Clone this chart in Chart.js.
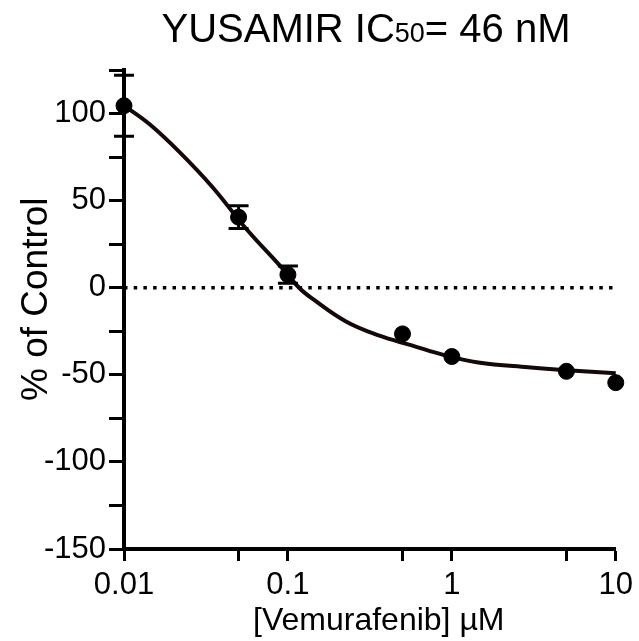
<!DOCTYPE html>
<html>
<head>
<meta charset="utf-8">
<script src="https://cdn.jsdelivr.net/npm/chart.js@4"></script>
<style>
  html, body { margin: 0; padding: 0; background: #fff; }
  #wrap { width: 639px; height: 641px; }
</style>
</head>
<body>
<div id="wrap"><canvas id="myChart" width="639" height="641"></canvas></div>
<script>
// measured points (mean +/- error)
const concentrations = [0.01, 0.05, 0.1, 0.5, 1, 5, 10];
const meanResponse = [104.5, 40.5, 7.5, -26.5, -39.5, -48, -54.5];
const errResponse = [17.5, 6.5, 5, 0, 0, 0, 0];

// fitted curve
const fitX = [0.01, 0.0144, 0.0219, 0.0347, 0.0558, 0.0885, 0.117, 0.141, 0.226, 0.358, 0.569, 0.915, 1.45, 2.92, 5.03, 10];
const fitY = [104.6, 93.7, 77.7, 57.7, 33.7, 13.1, 0, -6.3, -19.4, -27.4, -33.1, -38.9, -42.9, -45.7, -47.4, -49.1];

// axis ticks
const xTickValues = [0.01, 0.05, 0.1, 0.5, 1, 5, 10];
const xTickLabels = ["0.01", "", "0.1", "", "1", "", "10"];
const yTickValues = [-150, -125, -100, -75, -50, -25, 0, 25, 50, 75, 100, 125];
const yTickLabels = ["-150", "", "-100", "", "-50", "", "0", "", "50", "", "100", ""];

const FONT = "'Liberation Sans', Arial, Helvetica, sans-serif";
const INK = "#000";

const errorBars = {
  id: "errorBars",
  afterDatasetsDraw(chart) {
    const x = chart.scales.x, y = chart.scales.y, c = chart.ctx;
    c.save();
    c.strokeStyle = INK;
    c.lineWidth = 3;
    for (let i = 0; i < concentrations.length; i++) {
      if (!errResponse[i]) continue;
      const px = x.getPixelForValue(concentrations[i]);
      const top = y.getPixelForValue(meanResponse[i] + errResponse[i]);
      const bot = y.getPixelForValue(meanResponse[i] - errResponse[i]);
      c.beginPath();
      c.moveTo(px, top); c.lineTo(px, bot);
      c.moveTo(px - 10, top); c.lineTo(px + 10, top);
      c.moveTo(px - 10, bot); c.lineTo(px + 10, bot);
      c.stroke();
    }
    c.restore();
  }
};

// title with the small "50"
const titlePlugin = {
  id: "titlePlugin",
  afterDraw(chart) {
    const c = chart.ctx;
    const parts = [["YUSAMIR IC", 40], ["50", 27], ["= 46 nM", 40]];
    c.save();
    c.fillStyle = INK;
    c.textBaseline = "alphabetic";
    let total = 0;
    parts.forEach(p => { c.font = p[1] + "px " + FONT; total += c.measureText(p[0]).width; });
    let x = 366 - total / 2;
    parts.forEach(p => {
      c.font = p[1] + "px " + FONT;
      c.fillText(p[0], x, 42);
      x += c.measureText(p[0]).width;
    });
    c.restore();
  }
};

const ctx = document.getElementById("myChart");
const myChart = new Chart(ctx, {
  type: "scatter",
  data: {
    datasets: [
      {
        label: "points",
        data: concentrations.map((v, i) => ({ x: v, y: meanResponse[i] })),
        backgroundColor: INK,
        borderColor: INK,
        pointRadius: 8,
        pointHoverRadius: 8,
        showLine: false,
        clip: false,
      },
      {
        label: "fit",
        data: fitX.map((v, i) => ({ x: v, y: fitY[i] })),
        showLine: true,
        borderColor: "#140808",
        borderWidth: 4,
        pointRadius: 0,
        tension: 0.4,
        clip: false,
      },
      {
        label: "zero",
        data: [{ x: 0.01, y: 0 }, { x: 10, y: 0 }],
        showLine: true,
        borderColor: INK,
        borderWidth: 3.5,
        borderDash: [3.5, 6.2],
        pointRadius: 0,
      },
    ],
  },
  options: {
    responsive: false,
    animation: false,
    layout: { padding: { top: 70, right: 21, left: 0, bottom: 0 } },
    plugins: {
      legend: { display: false },
      tooltip: { enabled: false },
    },
    scales: {
      x: {
        type: "logarithmic",
        min: 0.01,
        max: 10,
        afterBuildTicks: (s) => { s.ticks = xTickValues.map(v => ({ value: v })); },
        afterFit: (s) => { s.height = 92; },
        ticks: {
          autoSkip: false,
          maxRotation: 0,
          padding: 6,
          color: INK,
          font: { family: FONT, size: 31 },
          callback: (v, i) => xTickLabels[i],
        },
        grid: { drawOnChartArea: false, tickLength: 12, tickWidth: 3, tickColor: INK },
        border: { color: INK, width: 4 },
        title: {
          display: true,
          text: "  [Vemurafenib] µM",
          color: INK,
          font: { family: FONT, size: 32 },
          padding: { top: 0, bottom: 1 },
        },
      },
      y: {
        min: -150,
        max: 125,
        afterBuildTicks: (s) => { s.ticks = yTickValues.map(v => ({ value: v })); },
        afterFit: (s) => { s.width = 124; },
        ticks: {
          autoSkip: false,
          padding: 3,
          color: INK,
          font: { family: FONT, size: 31 },
          callback: (v, i) => yTickLabels[i],
        },
        grid: { drawOnChartArea: false, tickLength: 15, tickWidth: 3, tickColor: INK },
        border: { color: INK, width: 4 },
        title: {
          display: true,
          text: "  % of Control",
          color: INK,
          font: { family: FONT, size: 37 },
          padding: { top: 15, bottom: 0 },
        },
      },
    },
  },
  plugins: [errorBars, titlePlugin],
});
</script>
</body>
</html>
